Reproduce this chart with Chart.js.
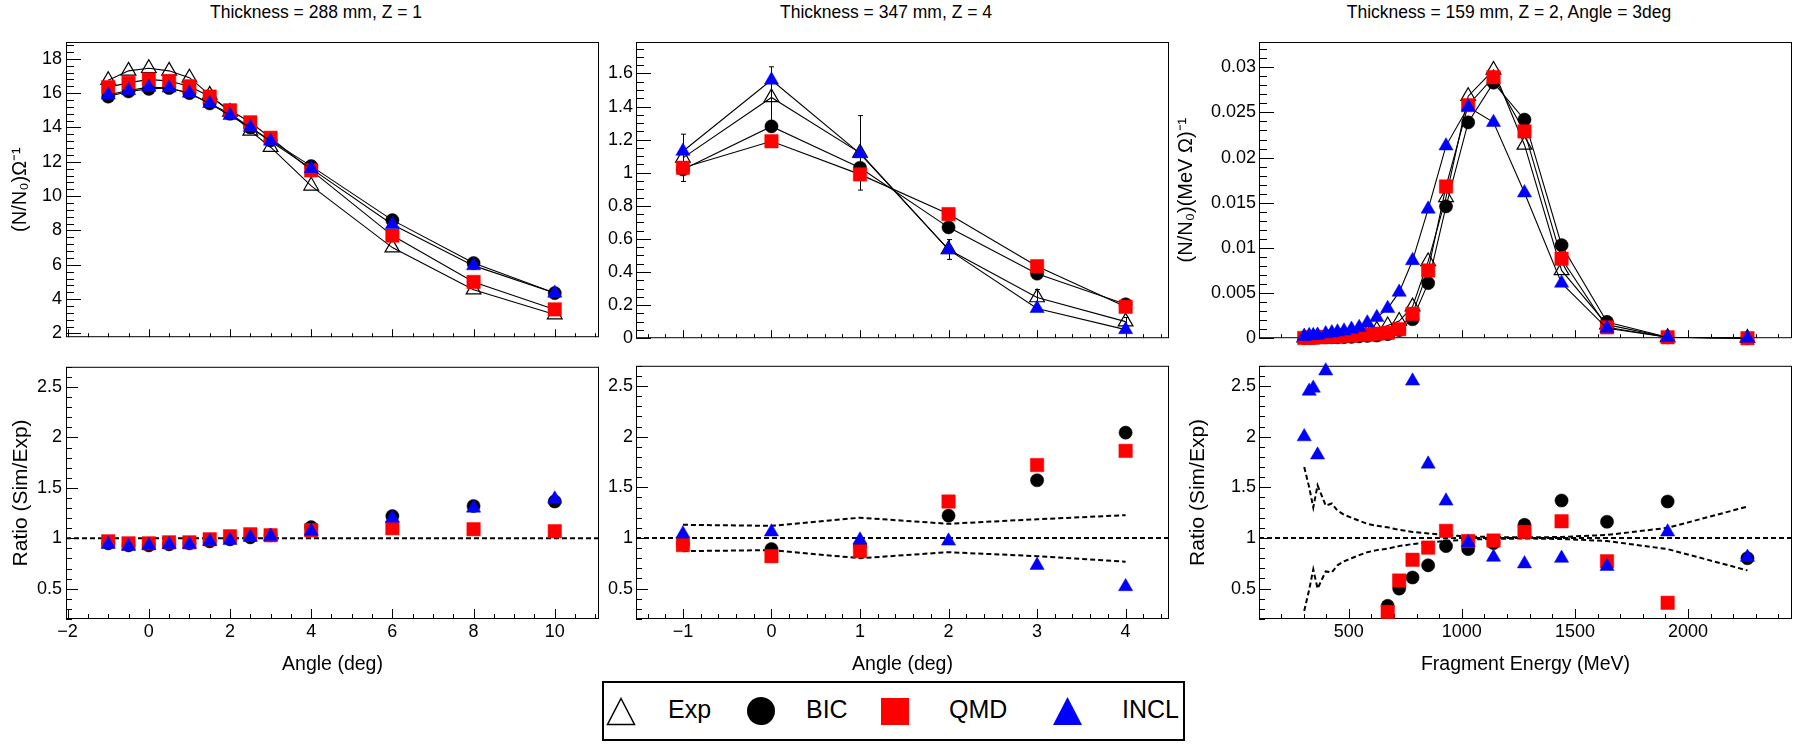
<!DOCTYPE html>
<html><head><meta charset="utf-8">
<script src="https://cdn.jsdelivr.net/npm/chart.js@4.4.0/dist/chart.umd.min.js"></script>
<style>
html,body{margin:0;padding:0;background:#fff;}
#root{position:relative;width:1800px;height:749px;overflow:hidden;background:#fff;font-family:"Liberation Sans",Arial,sans-serif;color:#000;}
canvas{position:absolute;}
.ttl{position:absolute;top:4px;font-size:17.5px;line-height:17.5px;white-space:nowrap;transform:translateX(-50%);}
#legend{position:absolute;left:602px;top:681px;width:583px;height:60px;border:2px solid #000;box-sizing:border-box;background:#fff;}
.lt{position:absolute;top:14px;font-size:25px;line-height:25px;white-space:nowrap;}
.lm{position:absolute;}
</style></head>
<body>
<div id="root">
  <div class="ttl" style="left:316px">Thickness = 288 mm, Z = 1</div>
  <div class="ttl" style="left:886px">Thickness = 347 mm, Z = 4</div>
  <div class="ttl" style="left:1509px">Thickness = 159 mm, Z = 2, Angle = 3deg</div>
  <div id="legend">
    <svg class="lm" style="left:2px;top:14px" width="30" height="29"><polygon points="15,1.5 28.5,27.5 1.5,27.5" fill="none" stroke="#000" stroke-width="1.5"/></svg>
    <span class="lt" style="left:64px">Exp</span>
    <svg class="lm" style="left:143px;top:14px" width="28" height="28"><ellipse cx="14" cy="14" rx="14" ry="14" fill="#000"/></svg>
    <span class="lt" style="left:202px">BIC</span>
    <svg class="lm" style="left:277px;top:15px" width="28" height="27"><rect x="0" y="0" width="28" height="27" fill="#ff0000"/></svg>
    <span class="lt" style="left:345px">QMD</span>
    <svg class="lm" style="left:449px;top:14px" width="29" height="28"><polygon points="14.5,0 29,28 0,28" fill="#0000ff"/></svg>
    <span class="lt" style="left:518px">INCL</span>
  </div>
</div>
<script>
// ---------------- DATA ----------------
// Panel 1: Thickness = 288 mm, Z = 1
const angle1 = [-1, -0.5, 0, 0.5, 1, 1.5, 2, 2.5, 3, 4, 6, 8, 10];
const exp1  = [16.75, 17.3, 17.45, 17.3, 16.9, 15.9, 14.9, 13.8, 12.85, 10.6, 7.0, 4.55, 3.1];
const bic1  = [15.8, 16.1, 16.25, 16.3, 16.0, 15.4, 14.8, 14.0, 13.25, 11.75, 8.6, 6.1, 4.35];
const qmd1  = [16.35, 16.6, 16.8, 16.7, 16.4, 15.8, 15.0, 14.3, 13.4, 11.5, 7.7, 5.0, 3.4];
const incl1 = [15.9, 16.15, 16.35, 16.3, 16.0, 15.4, 14.7, 14.0, 13.2, 11.6, 8.35, 5.95, 4.35];
const bicR1  = [0.95, 0.93, 0.93, 0.94, 0.95, 0.97, 0.99, 1.01, 1.03, 1.11, 1.22, 1.32, 1.365];
const qmdR1  = [0.97, 0.95, 0.95, 0.96, 0.96, 0.99, 1.02, 1.04, 1.03, 1.08, 1.10, 1.09, 1.07];
const inclR1 = [0.94, 0.92, 0.93, 0.94, 0.94, 0.97, 0.98, 1.01, 1.02, 1.07, 1.20, 1.30, 1.39];

// Panel 2: Thickness = 347 mm, Z = 4
const angle2 = [-1, 0, 1, 2, 3, 4];
const exp2    = [1.09, 1.455, 1.12, 0.536, 0.246, 0.10];
const exp2Err = [0.143, 0.185, 0.225, 0.06, 0.048, 0.025];
const bic2  = [1.02, 1.28, 1.03, 0.67, 0.39, 0.205];
const qmd2  = [1.03, 1.19, 0.99, 0.75, 0.435, 0.19];
const incl2 = [1.13, 1.56, 1.115, 0.535, 0.18, 0.052];
const bicR2  = [0.94, 0.89, 0.92, 1.22, 1.57, 2.04];
const qmdR2  = [0.93, 0.82, 0.87, 1.36, 1.72, 1.86];
const inclR2 = [1.04, 1.06, 0.98, 0.97, 0.73, 0.52];
const band2Up = [1.13, 1.12, 1.20, 1.14, 1.185, 1.225];
const band2Lo = [0.87, 0.88, 0.80, 0.86, 0.82, 0.765];

// Panel 3: Thickness = 159 mm, Z = 2, Angle = 3deg
const energy3 = [303, 325, 343, 362, 398, 425, 450, 479, 512, 546, 582, 624, 672, 723, 782, 851, 930, 1028, 1140, 1277, 1441, 1642, 1910, 2263];
const exp3  = [0.00005, 0.00006, 0.00008, 0.0001, 0.0001, 0.00012, 0.00015, 0.0002, 0.00025, 0.0003, 0.0005, 0.0009, 0.0014, 0.0019, 0.0035, 0.0085, 0.0156, 0.0268, 0.0297, 0.0214, 0.0075, 0.0015, 0.0001, 0.00002];
const bic3  = [0.00002, 0.00003, 0.00005, 0.00006, 0.00008, 0.0001, 0.0001, 0.00012, 0.00015, 0.0002, 0.00025, 0.0003, 0.00045, 0.0009, 0.0021, 0.0061, 0.0146, 0.0239, 0.0283, 0.0242, 0.0103, 0.0018, 0.0001, 0.0];
const qmd3  = [0.00003, 0.00005, 0.0001, 0.0001, 0.00015, 0.0002, 0.0002, 0.0003, 0.0003, 0.0004, 0.0004, 0.0005, 0.0006, 0.0010, 0.0027, 0.0075, 0.0168, 0.0258, 0.0289, 0.0229, 0.0088, 0.0012, 0.0001, 0.0];
const incl3 = [0.0002, 0.0003, 0.0003, 0.00035, 0.0005, 0.0006, 0.0007, 0.0008, 0.0010, 0.0012, 0.0017, 0.0023, 0.0033, 0.0051, 0.0086, 0.0143, 0.0213, 0.0256, 0.0239, 0.0161, 0.0061, 0.0011, 0.0001, 0.0];
const bicR3  = [null, null, null, null, null, null, null, null, null, null, null, null, 0.33, 0.50, 0.61, 0.73, 0.92, 0.89, 0.95, 1.13, 1.37, 1.16, 1.36, 0.80];
const qmdR3  = [null, null, null, null, null, null, null, null, null, null, null, null, 0.27, 0.58, 0.785, 0.905, 1.07, 0.97, 0.975, 1.06, 1.165, 0.77, 0.36, null];
const inclR3 = [2.0, 2.45, 2.48, 1.82, 2.65, null, null, null, null, null, null, null, null, null, 2.55, 1.73, 1.365, 0.955, 0.81, 0.745, 0.80, 0.72, 1.06, 0.81];
const band3Up = [1.70, 1.50, 1.30, 1.52, 1.32, 1.34, 1.27, 1.23, 1.20, 1.17, 1.14, 1.12, 1.105, 1.08, 1.06, 1.045, 1.03, 1.015, 1.01, 1.005, 1.01, 1.03, 1.10, 1.31];
const band3Lo = [0.28, 0.49, 0.69, 0.50, 0.67, 0.66, 0.73, 0.77, 0.80, 0.83, 0.86, 0.88, 0.895, 0.92, 0.94, 0.955, 0.97, 0.985, 0.99, 0.995, 0.99, 0.97, 0.89, 0.68];

// Axis ranges and tick labels
const xRange1 = [-2.04, 11.09], yRange1 = [1.78, 18.98];
const xRange2 = [-1.53, 4.49],  yRange2 = [0, 1.79];
const xRange3 = [103, 2460],    yRange3 = [0, 0.0328];
const ratioRange = [0.2, 2.7];
const xTicks1 = [-2, 0, 2, 4, 6, 8, 10];
const yTicks1 = [2, 4, 6, 8, 10, 12, 14, 16, 18];
const xTicks2 = [-1, 0, 1, 2, 3, 4];
const yTicks2 = [0, 0.2, 0.4, 0.6, 0.8, 1, 1.2, 1.4, 1.6];
const xTicks3 = [500, 1000, 1500, 2000];
const yTicks3 = [0, 0.005, 0.01, 0.015, 0.02, 0.025, 0.03];
const ratioTicks = [0.5, 1, 1.5, 2, 2.5];
const refLevel = 1;

// ---------------- STYLE ----------------
Chart.defaults.font.family = '"Liberation Sans", Arial, sans-serif';
Chart.defaults.color = '#000';
Chart.defaults.animation = false;

const MARK = {
  exp:  {pointStyle: 'triangle', pointRadius: 8.5, pointBackgroundColor: 'rgba(0,0,0,0)', pointBorderColor: '#000', pointBorderWidth: 1.2, order: 4},
  bic:  {pointStyle: 'circle',   pointRadius: 6.6, pointBackgroundColor: '#000', pointBorderColor: '#000', pointBorderWidth: 0.5, order: 3},
  qmd:  {pointStyle: 'rect',     pointRadius: 9.5, pointBackgroundColor: '#ff0000', pointBorderColor: '#ff0000', pointBorderWidth: 0.5, order: 2},
  incl: {pointStyle: 'triangle', pointRadius: 8.2, pointBackgroundColor: '#0000ff', pointBorderColor: '#0000ff', pointBorderWidth: 0.5, order: 1}
};

function fmt(v) { return String(+Number(v).toFixed(6)).replace('-', '\u2212'); }

function series(xs, ys, key, line) {
  return Object.assign({
    data: xs.map((x, i) => ({x: x, y: ys[i]})),
    showLine: line, borderColor: '#000', borderWidth: 1.1, clip: false
  }, MARK[key]);
}
function dashed(xs, ys) {
  return {data: xs.map((x, i) => ({x: x, y: ys[i]})), showLine: true, borderColor: '#000',
          borderWidth: 2, borderDash: [5, 3], pointRadius: 0, order: 6, clip: false};
}

const rootAxes = {
  id: 'rootAxes',
  beforeDatasetsDraw(chart, args, o) {
    const {ctx, chartArea: a} = chart;
    const xs = chart.scales.x, ys = chart.scales.y;
    const marks = (min, max, step) => { const out = []; let k = Math.ceil(min / step - 1e-9); for (; k * step <= max + 1e-9; k++) out.push(+(k * step).toFixed(9)); return out; };
    const isMaj = (v, s) => Math.abs(v / s - Math.round(v / s)) < 1e-6;
    ctx.save();
    ctx.strokeStyle = '#000';
    ctx.lineWidth = 1;
    ctx.strokeRect(a.left + 0.5, a.top + 0.5, a.width - 1, a.height - 1);
    ctx.beginPath();
    for (const v of marks(xs.min, xs.max, o.xMinor)) {
      const p = Math.round(xs.getPixelForValue(v)) + 0.5;
      const L = isMaj(v, o.xMajor) ? o.xMajLen : o.xMinLen;
      ctx.moveTo(p, a.bottom); ctx.lineTo(p, a.bottom - L);
    }
    for (const v of marks(ys.min, ys.max, o.yMinor)) {
      const p = Math.round(ys.getPixelForValue(v)) + 0.5;
      const L = isMaj(v, o.yMajor) ? o.yMajLen : o.yMinLen;
      ctx.moveTo(a.left, p); ctx.lineTo(a.left + L, p);
    }
    ctx.stroke();
    if (o.err) {
      ctx.beginPath();
      o.err.x.forEach((xv, i) => {
        const px = Math.round(xs.getPixelForValue(xv)) + 0.5;
        const y1 = ys.getPixelForValue(o.err.y[i] - o.err.e[i]);
        const y2 = ys.getPixelForValue(o.err.y[i] + o.err.e[i]);
        ctx.moveTo(px, y1); ctx.lineTo(px, y2);
        ctx.moveTo(px - 2.5, y1); ctx.lineTo(px + 2.5, y1);
        ctx.moveTo(px - 2.5, y2); ctx.lineTo(px + 2.5, y2);
      });
      ctx.stroke();
    }
    ctx.restore();
  }
};

function makeChart(box, datasets, ax) {
  const c = document.createElement('canvas');
  c.width = box.w; c.height = box.h;
  c.style.left = box.left + 'px'; c.style.top = box.top + 'px';
  c.style.width = box.w + 'px'; c.style.height = box.h + 'px';
  document.getElementById('root').appendChild(c);
  new Chart(c, {
    type: 'scatter',
    data: {datasets: datasets},
    plugins: [rootAxes],
    options: {
      responsive: false, animation: false, events: [],
      layout: {padding: box.pad, autoPadding: false},
      plugins: {legend: {display: false}, tooltip: {enabled: false}, title: {display: false},
                rootAxes: ax.ticks},
      scales: {
        x: {type: 'linear', min: ax.xRange[0], max: ax.xRange[1], display: ax.showX,
            grid: {display: false, drawTicks: false}, border: {display: false},
            afterBuildTicks: s => { s.ticks = ax.xTickVals.map(v => ({value: v})); },
            ticks: {autoSkip: false, maxRotation: 0, minRotation: 0,
                    padding: 2, font: {size: 18}, color: '#000', callback: fmt},
            title: {display: !!ax.xTitle, text: ax.xTitle || '', font: {size: 19.5}, color: '#000', padding: {top: 0, bottom: 6}},
            afterFit: s => { s.height = ax.xH || 0; }},
        y: {type: 'linear', min: ax.yRange[0], max: ax.yRange[1], display: true,
            grid: {display: false, drawTicks: false}, border: {display: false},
            afterBuildTicks: s => { s.ticks = ax.yTickVals.map(v => ({value: v})); },
            ticks: {autoSkip: false, padding: ax.yPad, font: {size: 18}, color: '#000', callback: fmt},
            title: {display: !!ax.yTitle, text: ax.yTitle || '', font: {size: ax.yTitleSize || 20}, color: '#000', padding: {top: ax.yTitlePad || 0, bottom: 0}},
            afterFit: s => { s.width = ax.yW; }}
      }
    }
  });
}

const topPadY = {top: 42, bottom: 1};
const botPadY = {top: 5, bottom: 0};

// ---- Panel 1 top ----
makeChart({left: 0, top: 0, w: 600, h: 352, pad: Object.assign({left: 0, right: 1}, topPadY)},
  [series(angle1, exp1, 'exp', true), series(angle1, bic1, 'bic', true),
   series(angle1, qmd1, 'qmd', true), series(angle1, incl1, 'incl', true)],
  {xRange: xRange1, yRange: yRange1, xTickVals: xTicks1, yTickVals: yTicks1, showX: false, yW: 66, yPad: 4,
   yTitle: '(N/N\u2080)\u03A9\u207B\u00B9', yTitleSize: 20, yTitlePad: 8,
   ticks: {xMajor: 2, xMinor: 0.5, yMajor: 2, yMinor: 0.4, xMajLen: 8, xMinLen: 4, yMajLen: 15, yMinLen: 8}});
// ---- Panel 1 bottom ----
makeChart({left: 0, top: 352, w: 600, h: 330, pad: Object.assign({left: 0, right: 1}, botPadY)},
  [dashed(xRange1, [refLevel, refLevel]),
   series(angle1, bicR1, 'bic', false), series(angle1, qmdR1, 'qmd', false), series(angle1, inclR1, 'incl', false)],
  {xRange: xRange1, yRange: ratioRange, xTickVals: xTicks1, yTickVals: ratioTicks, showX: true, xH: 63, xTitle: 'Angle (deg)', yW: 66, yPad: 4,
   yTitle: 'Ratio (Sim/Exp)', yTitleSize: 21, yTitlePad: 9,
   ticks: {xMajor: 2, xMinor: 0.5, yMajor: 0.5, yMinor: 0.1, xMajLen: 10, xMinLen: 5, yMajLen: 12, yMinLen: 6}});

// ---- Panel 2 top ----
makeChart({left: 600, top: 0, w: 600, h: 352, pad: Object.assign({left: 0, right: 31}, topPadY)},
  [series(angle2, exp2, 'exp', true), series(angle2, bic2, 'bic', true),
   series(angle2, qmd2, 'qmd', true), series(angle2, incl2, 'incl', true)],
  {xRange: xRange2, yRange: yRange2, xTickVals: xTicks2, yTickVals: yTicks2, showX: false, yW: 36, yPad: 3,
   ticks: {xMajor: 1, xMinor: 0.2, yMajor: 0.2, yMinor: 0.05, xMajLen: 8, xMinLen: 4, yMajLen: 15, yMinLen: 8,
           err: {x: angle2, y: exp2, e: exp2Err}}});
// ---- Panel 2 bottom ----
makeChart({left: 600, top: 352, w: 600, h: 330, pad: Object.assign({left: 0, right: 31}, botPadY)},
  [dashed(xRange2, [refLevel, refLevel]), dashed(angle2, band2Up), dashed(angle2, band2Lo),
   series(angle2, bicR2, 'bic', false), series(angle2, qmdR2, 'qmd', false), series(angle2, inclR2, 'incl', false)],
  {xRange: xRange2, yRange: ratioRange, xTickVals: xTicks2, yTickVals: ratioTicks, showX: true, xH: 63, xTitle: 'Angle (deg)', yW: 36, yPad: 3,
   ticks: {xMajor: 1, xMinor: 0.2, yMajor: 0.5, yMinor: 0.1, xMajLen: 10, xMinLen: 5, yMajLen: 12, yMinLen: 6}});

// ---- Panel 3 top ----
makeChart({left: 1170, top: 0, w: 630, h: 352, pad: Object.assign({left: 0, right: 8}, topPadY)},
  [series(energy3, exp3, 'exp', true), series(energy3, bic3, 'bic', true),
   series(energy3, qmd3, 'qmd', true), series(energy3, incl3, 'incl', true)],
  {xRange: xRange3, yRange: yRange3, xTickVals: xTicks3, yTickVals: yTicks3, showX: false, yW: 89, yPad: 3,
   yTitle: '(N/N\u2080)(MeV \u03A9)\u207B\u00B9', yTitleSize: 20, yTitlePad: 4,
   ticks: {xMajor: 500, xMinor: 100, yMajor: 0.005, yMinor: 0.001, xMajLen: 8, xMinLen: 4, yMajLen: 15, yMinLen: 8}});
// ---- Panel 3 bottom ----
makeChart({left: 1170, top: 352, w: 630, h: 330, pad: Object.assign({left: 0, right: 8}, botPadY)},
  [dashed(xRange3, [refLevel, refLevel]), dashed(energy3, band3Up), dashed(energy3, band3Lo),
   series(energy3, bicR3, 'bic', false), series(energy3, qmdR3, 'qmd', false), series(energy3, inclR3, 'incl', false)],
  {xRange: xRange3, yRange: ratioRange, xTickVals: xTicks3, yTickVals: ratioTicks, showX: true, xH: 63, xTitle: 'Fragment Energy (MeV)', yW: 89, yPad: 3,
   yTitle: 'Ratio (Sim/Exp)', yTitleSize: 21, yTitlePad: 16,
   ticks: {xMajor: 500, xMinor: 100, yMajor: 0.5, yMinor: 0.1, xMajLen: 10, xMinLen: 5, yMajLen: 12, yMinLen: 6}});
</script>
</body></html>
